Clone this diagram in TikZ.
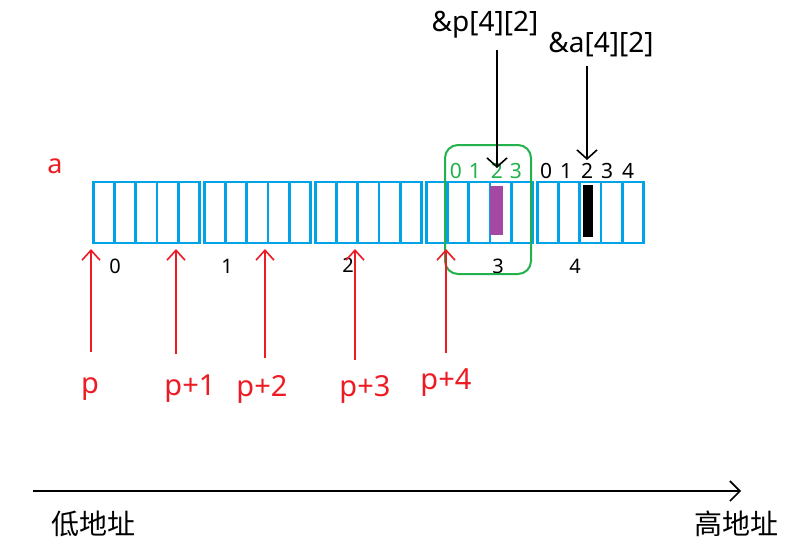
\documentclass[tikz,border=0pt]{standalone}
\usepackage{fontspec}
\setmainfont{Noto Sans}
\newfontfamily\cjk{Noto Sans CJK SC}
\usetikzlibrary{arrows.meta}
\definecolor{cellblue}{RGB}{0,162,232}
\definecolor{pred}{RGB}{237,28,36}
\definecolor{pgreen}{RGB}{34,177,76}
\definecolor{ppurple}{RGB}{163,73,164}
\begin{document}
\begin{tikzpicture}[x=1pt,y=-1pt,
  cell/.style={draw=cellblue,line width=2.8pt,minimum width=21.2pt,minimum height=61pt,inner sep=0pt,anchor=north west},
  ptr/.style={draw=pred,line width=1.6pt,-{Straight Barb[length=10pt,width=18pt,line width=1.6pt]}},
  blk/.style={draw=black,line width=1.6pt,-{Straight Barb[length=9pt,width=20pt,line width=1.6pt]}},
  redlbl/.style={text=pred,font=\fontsize{29}{32}\selectfont},
  idx/.style={font=\fontsize{20}{22}\selectfont},
  hand/.style={font=\fontsize{21}{22}\selectfont},
  addr/.style={font=\fontsize{28}{32}\selectfont}]
\useasboundingbox (0,0) rectangle (798,554);
\fill[white] (0,0) rectangle (798,554);
% cells
\foreach \b in {0,...,4}{
  \foreach \c in {0,...,4}{
    \node[cell] (c\b\c) at ({92+111*\b+21.2*\c},180.5) {};
  }
}
% bars
\fill[ppurple] (490,186) rectangle (503,235);
\fill[black] (583,185) rectangle (593,237);
% block indices
\node[idx] (i0) at (115,266) {0};
\node[idx] (i1) at (227,266) {1};
\node[idx] (i2) at (348,265) {2};
\node[idx] (i3) at (498,266) {3};
\node[idx] (i4) at (575,266) {4};
% green box
\node[draw=pgreen,line width=2pt,rounded corners=13pt,minimum width=86pt,minimum height=129pt,inner sep=0pt] (gbox) at (488,209.5) {};
\foreach \d/\x in {0/456,1/475,2/497,3/516}{
  \node[hand,text=pgreen] (g\d) at (\x,171) {\d};
}
\foreach \d/\x in {0/546,1/566,2/587,3/607,4/628}{
  \node[hand] (k\d) at (\x,171) {\d};
}
% label a
\node[text=pred,font=\fontsize{27}{30}\selectfont] (a) at (55,166) {a};
% pointer arrows
\foreach \n/\x/\t in {0/91/352,1/176/354,2/265/358,3/355/360,4/446/353}{
  \coordinate (s\n) at (\x,\t);
  \coordinate (e\n) at (\x,249);
  \draw[ptr] (s\n) -- (e\n);
}
\node[redlbl] (lp0) at (90,389) {p};
\node[redlbl] (lp1) at (190,389) {p+1};
\node[redlbl] (lp2) at (262,389) {p+2};
\node[redlbl] (lp3) at (365,389) {p+3};
\node[redlbl] (lp4) at (446,383) {p+4};
% top labels
\node[addr] (pa) at (485,25) {\&p[4][2]};
\node[addr] (aa) at (601,45) {\&a[4][2]};
\coordinate (pa1) at (497,50);
\coordinate (pa2) at (497,168);
\coordinate (aa1) at (587,66);
\coordinate (aa2) at (587,160);
\draw[blk] (pa1) -- (pa2);
\draw[blk] (aa1) -- (aa2);
% address axis
\coordinate (ax0) at (33,491);
\coordinate (ax1) at (741,491);
\draw[line width=1.6pt,-{Straight Barb[length=10pt,width=20pt,line width=1.6pt]}] (ax0) -- (ax1);
\node[font=\cjk\fontsize{28}{30}\selectfont] (lo) at (93,524) {低地址};
\node[font=\cjk\fontsize{28}{30}\selectfont] (hi) at (736,524) {高地址};
\end{tikzpicture}
\end{document}
